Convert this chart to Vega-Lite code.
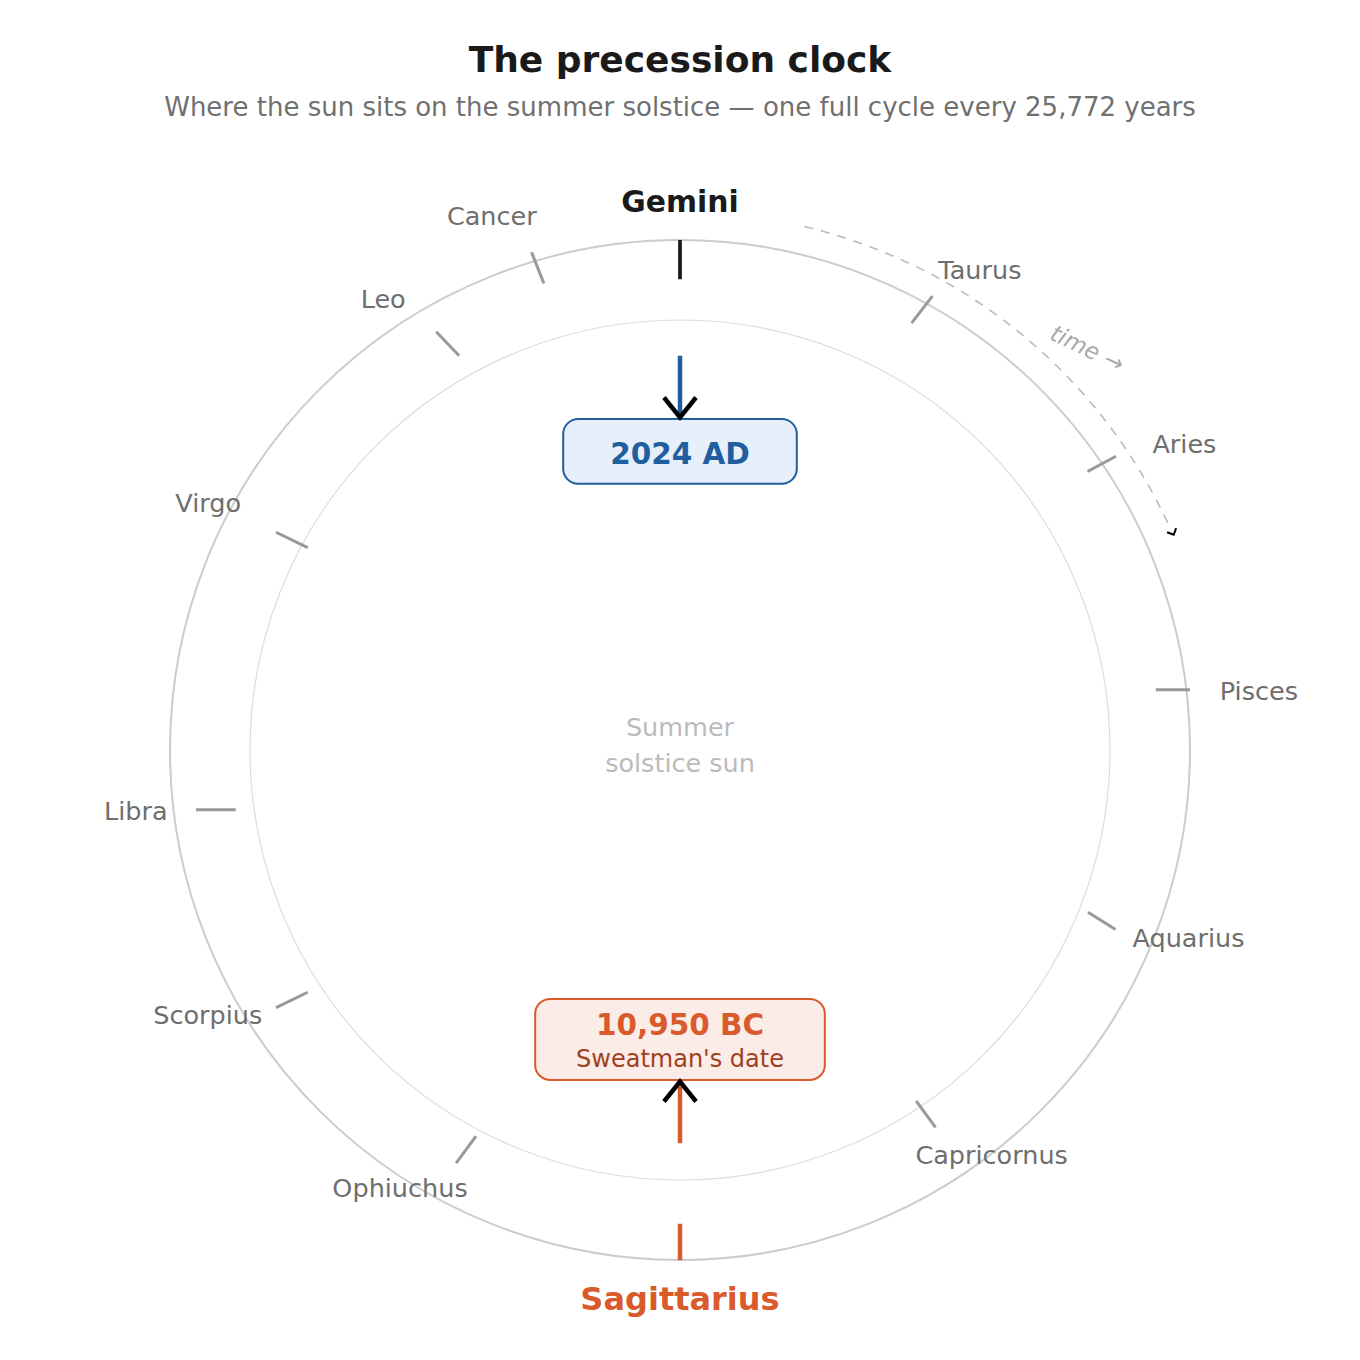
{
  "$schema": "https://vega.github.io/schema/vega-lite/v6.json",
  "width": 1360,
  "height": 1220,
  "autosize": {"type": "none"},
  "padding": {"left": 0, "right": 0, "top": 140, "bottom": 0},
  "background": "white",
  "title": {
    "text": "The precession clock",
    "subtitle": "Where the sun sits on the summer solstice — one full cycle every 25,772 years"
  },
  "config": {
    "font": "DejaVu Sans",
    "view": {"stroke": null},
    "title": {
      "anchor": "middle",
      "frame": "group",
      "font": "DejaVu Sans",
      "fontSize": 36,
      "fontWeight": "bold",
      "color": "#1a1a1a",
      "subtitleFont": "DejaVu Sans",
      "subtitleFontSize": 26,
      "subtitleColor": "#707070",
      "subtitlePadding": 15,
      "offset": 18
    }
  },
  "datasets": {
    "center": [{"x": 0, "y": 0}],
    "zodiac": [
      {"name": "Gemini", "kind": "now", "lx": 0, "ly": 1.0555, "tx1": 0, "ty1": 1.0, "tx2": 0, "ty2": 0.923},
      {"name": "Taurus", "kind": "normal", "lx": 0.588, "ly": 0.9229, "tx1": 0.454, "ty1": 0.837, "tx2": 0.495, "ty2": 0.89},
      {"name": "Aries", "kind": "normal", "lx": 0.989, "ly": 0.5833, "tx1": 0.799, "ty1": 0.546, "tx2": 0.855, "ty2": 0.576},
      {"name": "Pisces", "kind": "normal", "lx": 1.135, "ly": 0.098, "tx1": 0.933, "ty1": 0.118, "tx2": 1.0, "ty2": 0.118},
      {"name": "Aquarius", "kind": "normal", "lx": 0.997, "ly": -0.3869, "tx1": 0.8, "ty1": -0.318, "tx2": 0.854, "ty2": -0.352},
      {"name": "Capricornus", "kind": "normal", "lx": 0.611, "ly": -0.8118, "tx1": 0.463, "ty1": -0.688, "tx2": 0.501, "ty2": -0.74},
      {"name": "Sagittarius", "kind": "then", "lx": 0, "ly": -1.098, "tx1": 0, "ty1": -0.929, "tx2": 0, "ty2": -1.0},
      {"name": "Ophiuchus", "kind": "normal", "lx": -0.549, "ly": -0.8759, "tx1": -0.4, "ty1": -0.757, "tx2": -0.439, "ty2": -0.81},
      {"name": "Scorpius", "kind": "normal", "lx": -0.926, "ly": -0.5373, "tx1": -0.73, "ty1": -0.475, "tx2": -0.792, "ty2": -0.505},
      {"name": "Libra", "kind": "normal", "lx": -1.067, "ly": -0.1373, "tx1": -0.871, "ty1": -0.117, "tx2": -0.949, "ty2": -0.117},
      {"name": "Virgo", "kind": "normal", "lx": -0.925, "ly": 0.4673, "tx1": -0.73, "ty1": 0.397, "tx2": -0.792, "ty2": 0.427},
      {"name": "Leo", "kind": "normal", "lx": -0.582, "ly": 0.8661, "tx1": -0.433, "ty1": 0.773, "tx2": -0.478, "ty2": 0.82},
      {"name": "Cancer", "kind": "normal", "lx": -0.369, "ly": 1.0294, "tx1": -0.267, "ty1": 0.915, "tx2": -0.291, "ty2": 0.976}
    ],
    "dates": [
      {"era": "now", "label": "2024 AD", "note": "", "bx1": -0.229, "bx2": 0.229, "by1": 0.649, "by2": 0.522, "ax": 0, "ay1": 0.773, "ay2": 0.652, "ly": 0.5608, "ny": 0.5608},
      {"era": "then", "label": "10,950 BC", "note": "Sweatman's date", "bx1": -0.284, "bx2": 0.284, "by1": -0.488, "by2": -0.647, "ax": 0, "ay1": -0.771, "ay2": -0.65, "ly": -0.5588, "ny": -0.6222}
    ],
    "centerText": [
      {"t": "Summer", "x": 0, "y": 0.028},
      {"t": "solstice sun", "x": 0, "y": -0.0425}
    ],
    "timeText": [{"t": "time →", "x": 0.792, "y": 0.7733}],
    "timeHead": [{"x": 0.968, "y": 0.422}]
  },
  "resolve": {
    "scale": {"color": "independent", "fill": "independent", "stroke": "independent", "strokeWidth": "independent"}
  },
  "layer": [
    {
      "data": {"name": "center"},
      "mark": {"type": "point", "shape": "circle", "size": 1040400, "filled": false, "color": "#cccccc", "strokeWidth": 2, "opacity": 1},
      "encoding": {
        "x": {"field": "x", "type": "quantitative", "scale": {"domain": [-1.33333, 1.33333], "nice": false, "zero": false}, "axis": null},
        "y": {"field": "y", "type": "quantitative", "scale": {"domain": [-1.196078, 1.196078], "nice": false, "zero": false}, "axis": null}
      }
    },
    {
      "data": {"name": "center"},
      "mark": {"type": "point", "shape": "circle", "size": 739600, "filled": false, "color": "#dddddd", "strokeWidth": 1.2, "opacity": 1},
      "encoding": {
        "x": {"field": "x", "type": "quantitative", "scale": {"domain": [-1.33333, 1.33333], "nice": false, "zero": false}, "axis": null},
        "y": {"field": "y", "type": "quantitative", "scale": {"domain": [-1.196078, 1.196078], "nice": false, "zero": false}, "axis": null}
      }
    },
    {
      "data": {"name": "center"},
      "mark": {"type": "point", "shape": "M0.2312,-0.9729A1,1,0,0,1,0.9107,-0.4131", "size": 1157776, "filled": false, "color": "#bbbbbb", "strokeWidth": 1.6, "strokeDash": [9, 8], "opacity": 1},
      "encoding": {
        "x": {"field": "x", "type": "quantitative", "scale": {"domain": [-1.33333, 1.33333], "nice": false, "zero": false}, "axis": null},
        "y": {"field": "y", "type": "quantitative", "scale": {"domain": [-1.196078, 1.196078], "nice": false, "zero": false}, "axis": null}
      }
    },
    {
      "data": {"name": "timeHead"},
      "mark": {"type": "point", "shape": "M-1,-1L0,0L-1,1", "size": 100, "angle": 65.6, "filled": false, "color": "black", "strokeWidth": 2, "opacity": 1},
      "encoding": {
        "x": {"field": "x", "type": "quantitative", "scale": {"domain": [-1.33333, 1.33333], "nice": false, "zero": false}, "axis": null},
        "y": {"field": "y", "type": "quantitative", "scale": {"domain": [-1.196078, 1.196078], "nice": false, "zero": false}, "axis": null}
      }
    },
    {
      "data": {"name": "timeText"},
      "mark": {"type": "text", "fontSize": 23, "fontStyle": "italic", "color": "#aaaaaa", "angle": 25.5, "align": "center", "baseline": "alphabetic"},
      "encoding": {
        "x": {"field": "x", "type": "quantitative", "scale": {"domain": [-1.33333, 1.33333], "nice": false, "zero": false}, "axis": null},
        "y": {"field": "y", "type": "quantitative", "scale": {"domain": [-1.196078, 1.196078], "nice": false, "zero": false}, "axis": null},
        "text": {"field": "t"}
      }
    },
    {
      "data": {"name": "zodiac"},
      "mark": {"type": "rule"},
      "encoding": {
        "x": {"field": "tx1", "type": "quantitative", "scale": {"domain": [-1.33333, 1.33333], "nice": false, "zero": false}, "axis": null},
        "y": {"field": "ty1", "type": "quantitative", "scale": {"domain": [-1.196078, 1.196078], "nice": false, "zero": false}, "axis": null},
        "x2": {"field": "tx2"},
        "y2": {"field": "ty2"},
        "color": {"field": "kind", "type": "nominal", "scale": {"domain": ["normal", "now", "then"], "range": ["#999999", "#1a1a1a", "#d95a2b"]}, "legend": null},
        "strokeWidth": {"field": "kind", "type": "ordinal", "scale": {"domain": ["normal", "now", "then"], "range": [3, 4.5, 6]}, "legend": null}
      }
    },
    {
      "data": {"name": "zodiac"},
      "transform": [{"filter": "datum.kind === 'normal'"}],
      "mark": {"type": "text", "fontSize": 25.5, "color": "#6e6e6e", "align": "center", "baseline": "alphabetic"},
      "encoding": {
        "x": {"field": "lx", "type": "quantitative", "scale": {"domain": [-1.33333, 1.33333], "nice": false, "zero": false}, "axis": null},
        "y": {"field": "ly", "type": "quantitative", "scale": {"domain": [-1.196078, 1.196078], "nice": false, "zero": false}, "axis": null},
        "text": {"field": "name"}
      }
    },
    {
      "data": {"name": "zodiac"},
      "transform": [{"filter": "datum.kind === 'now'"}],
      "mark": {"type": "text", "fontSize": 29.8, "fontWeight": "bold", "color": "#1a1a1a", "align": "center", "baseline": "alphabetic"},
      "encoding": {
        "x": {"field": "lx", "type": "quantitative", "scale": {"domain": [-1.33333, 1.33333], "nice": false, "zero": false}, "axis": null},
        "y": {"field": "ly", "type": "quantitative", "scale": {"domain": [-1.196078, 1.196078], "nice": false, "zero": false}, "axis": null},
        "text": {"field": "name"}
      }
    },
    {
      "data": {"name": "zodiac"},
      "transform": [{"filter": "datum.kind === 'then'"}],
      "mark": {"type": "text", "fontSize": 32, "fontWeight": "bold", "color": "#d95a2b", "align": "center", "baseline": "alphabetic"},
      "encoding": {
        "x": {"field": "lx", "type": "quantitative", "scale": {"domain": [-1.33333, 1.33333], "nice": false, "zero": false}, "axis": null},
        "y": {"field": "ly", "type": "quantitative", "scale": {"domain": [-1.196078, 1.196078], "nice": false, "zero": false}, "axis": null},
        "text": {"field": "name"}
      }
    },
    {
      "data": {"name": "dates"},
      "mark": {"type": "rule", "strokeWidth": 4.5},
      "encoding": {
        "x": {"field": "ax", "type": "quantitative", "scale": {"domain": [-1.33333, 1.33333], "nice": false, "zero": false}, "axis": null},
        "y": {"field": "ay1", "type": "quantitative", "scale": {"domain": [-1.196078, 1.196078], "nice": false, "zero": false}, "axis": null},
        "y2": {"field": "ay2"},
        "color": {"field": "era", "type": "nominal", "scale": {"domain": ["now", "then"], "range": ["#1f5fa0", "#d95a2b"]}, "legend": null}
      }
    },
    {
      "data": {"name": "dates"},
      "mark": {"type": "rect", "cornerRadius": 15, "strokeWidth": 2},
      "encoding": {
        "x": {"field": "bx1", "type": "quantitative", "scale": {"domain": [-1.33333, 1.33333], "nice": false, "zero": false}, "axis": null},
        "x2": {"field": "bx2"},
        "y": {"field": "by1", "type": "quantitative", "scale": {"domain": [-1.196078, 1.196078], "nice": false, "zero": false}, "axis": null},
        "y2": {"field": "by2"},
        "fill": {"field": "era", "type": "nominal", "scale": {"domain": ["now", "then"], "range": ["#e7f0fa", "#fbece7"]}, "legend": null},
        "stroke": {"field": "era", "type": "nominal", "scale": {"domain": ["now", "then"], "range": ["#1f5fa0", "#d95a2b"]}, "legend": null}
      }
    },
    {
      "data": {"name": "dates"},
      "transform": [{"filter": "datum.era === 'now'"}],
      "mark": {"type": "point", "shape": "M-1,-1.25L0,0L1,-1.25", "size": 1024, "filled": false, "color": "black", "strokeWidth": 4.5, "opacity": 1},
      "encoding": {
        "x": {"field": "ax", "type": "quantitative", "scale": {"domain": [-1.33333, 1.33333], "nice": false, "zero": false}, "axis": null},
        "y": {"field": "ay2", "type": "quantitative", "scale": {"domain": [-1.196078, 1.196078], "nice": false, "zero": false}, "axis": null}
      }
    },
    {
      "data": {"name": "dates"},
      "transform": [{"filter": "datum.era === 'then'"}],
      "mark": {"type": "point", "shape": "M-1,1.25L0,0L1,1.25", "size": 1024, "filled": false, "color": "black", "strokeWidth": 4.5, "opacity": 1},
      "encoding": {
        "x": {"field": "ax", "type": "quantitative", "scale": {"domain": [-1.33333, 1.33333], "nice": false, "zero": false}, "axis": null},
        "y": {"field": "ay2", "type": "quantitative", "scale": {"domain": [-1.196078, 1.196078], "nice": false, "zero": false}, "axis": null}
      }
    },
    {
      "data": {"name": "dates"},
      "mark": {"type": "text", "fontSize": 29.5, "fontWeight": "bold", "align": "center", "baseline": "alphabetic"},
      "encoding": {
        "x": {"field": "ax", "type": "quantitative", "scale": {"domain": [-1.33333, 1.33333], "nice": false, "zero": false}, "axis": null},
        "y": {"field": "ly", "type": "quantitative", "scale": {"domain": [-1.196078, 1.196078], "nice": false, "zero": false}, "axis": null},
        "text": {"field": "label"},
        "color": {"field": "era", "type": "nominal", "scale": {"domain": ["now", "then"], "range": ["#1f5fa0", "#d95a2b"]}, "legend": null}
      }
    },
    {
      "data": {"name": "dates"},
      "transform": [{"filter": "datum.note !== ''"}],
      "mark": {"type": "text", "fontSize": 24, "color": "#a0401e", "align": "center", "baseline": "alphabetic"},
      "encoding": {
        "x": {"field": "ax", "type": "quantitative", "scale": {"domain": [-1.33333, 1.33333], "nice": false, "zero": false}, "axis": null},
        "y": {"field": "ny", "type": "quantitative", "scale": {"domain": [-1.196078, 1.196078], "nice": false, "zero": false}, "axis": null},
        "text": {"field": "note"}
      }
    },
    {
      "data": {"name": "centerText"},
      "mark": {"type": "text", "fontSize": 25.5, "color": "#bbbbbb", "align": "center", "baseline": "alphabetic"},
      "encoding": {
        "x": {"field": "x", "type": "quantitative", "scale": {"domain": [-1.33333, 1.33333], "nice": false, "zero": false}, "axis": null},
        "y": {"field": "y", "type": "quantitative", "scale": {"domain": [-1.196078, 1.196078], "nice": false, "zero": false}, "axis": null},
        "text": {"field": "t"}
      }
    }
  ]
}
